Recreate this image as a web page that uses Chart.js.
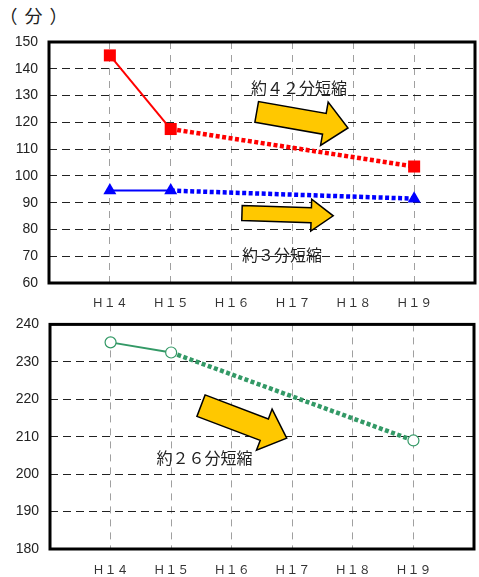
<!DOCTYPE html>
<html><head><meta charset="utf-8">
<script src="https://cdn.jsdelivr.net/npm/chart.js@4"></script>
<style>
html,body{margin:0;padding:0;background:#fff;}
#wrap{position:relative;width:479px;height:577px;overflow:hidden;background:#fff;}
canvas{position:absolute;left:0;}
#unit{position:absolute;left:-0.5px;top:6px;font-size:18px;line-height:18px;font-family:"Noto Sans CJK JP";letter-spacing:7px;color:#222;white-space:nowrap;}
</style></head><body>
<div id="wrap">
<div id="unit">（分）</div>
<canvas id="c1" width="479" height="310" style="top:0"></canvas>
<canvas id="c2" width="479" height="272" style="top:305px"></canvas>
</div>
<script>
// ---- data ----
const categories = ['Ｈ１４','Ｈ１５','Ｈ１６','Ｈ１７','Ｈ１８','Ｈ１９'];
const redValues   = [145, 117.5, null, null, null, 103.5];
const blueValues  = [94.5, 94.5, null, null, null, 91.5];
const greenValues = [235.2, 232.5, null, null, null, 209];
const topYTicks = [60, 70, 80, 90, 100, 110, 120, 130, 140, 150];
const bottomYTicks = [180, 190, 200, 210, 220, 230, 240];
const unitLabel = '（分）';
const noteRed = '約４２分短縮';
const noteBlue = '約３分短縮';
const noteGreen = '約２６分短縮';

// ---- helpers ----
const labels = ['', ...categories, ''];
const pad = arr => [null, ...arr, null];
const GREEN = '#339966';
const YELLOW = '#FFC800';

function drawArrow(ctx, x0, y0, x1, y1, bodyW, headW, headL) {
  const dx = x1 - x0, dy = y1 - y0, L = Math.hypot(dx, dy);
  const ux = dx / L, uy = dy / L, nx = -uy, ny = ux;
  const bx = x1 - ux * headL, by = y1 - uy * headL;
  const pts = [
    [x0 + nx * bodyW / 2, y0 + ny * bodyW / 2],
    [bx + nx * bodyW / 2, by + ny * bodyW / 2],
    [bx + nx * headW / 2, by + ny * headW / 2],
    [x1, y1],
    [bx - nx * headW / 2, by - ny * headW / 2],
    [bx - nx * bodyW / 2, by - ny * bodyW / 2],
    [x0 - nx * bodyW / 2, y0 - ny * bodyW / 2]
  ];
  ctx.beginPath();
  pts.forEach((p, i) => i ? ctx.lineTo(p[0], p[1]) : ctx.moveTo(p[0], p[1]));
  ctx.closePath();
  ctx.fillStyle = YELLOW;
  ctx.fill();
  ctx.lineWidth = 1.5;
  ctx.lineJoin = 'miter';
  ctx.strokeStyle = '#000';
  ctx.stroke();
}

const framePlugin = {
  id: 'frame',
  beforeDatasetsDraw(chart) {
    const { ctx, chartArea: a } = chart;
    ctx.save();
    ctx.lineWidth = 3;
    ctx.strokeStyle = '#000';
    ctx.strokeRect(a.left, a.top, a.right - a.left, a.bottom - a.top);
    ctx.restore();
  }
};

const notesPlugin = {
  id: 'notes',
  afterDatasetsDraw(chart, args, opts) {
    const { ctx, scales: { x, y } } = chart;
    ctx.save();
    (opts.arrows || []).forEach(a => {
      drawArrow(ctx,
        x.getPixelForValue(a.from[0]), y.getPixelForValue(a.from[1]),
        x.getPixelForValue(a.to[0]), y.getPixelForValue(a.to[1]),
        a.bodyW, a.headW, a.headL);
    });
    (opts.texts || []).forEach(t => {
      ctx.font = '16px "Noto Sans CJK JP"';
      ctx.fillStyle = '#222';
      ctx.textAlign = 'center';
      ctx.textBaseline = 'middle';
      ctx.fillText(t.text, x.getPixelForValue(t.at[0]), y.getPixelForValue(t.at[1]));
    });
    ctx.restore();
  }
};

function lineDataset(values, color, pointStyle, radius, extra) {
  return Object.assign({
    data: pad(values),
    borderColor: color,
    backgroundColor: color,
    pointBackgroundColor: color,
    pointBorderColor: color,
    pointBorderWidth: 0,
    pointStyle: pointStyle,
    pointRadius: radius,
    pointHoverRadius: radius,
    spanGaps: true,
    tension: 0,
    borderWidth: 2,
    clip: false,
    segment: {
      borderDash: c => c.p0DataIndex >= 2 ? [4, 2.5] : [],
      borderWidth: c => c.p0DataIndex >= 2 ? 4.5 : 2
    }
  }, extra || {});
}

function makeOptions(ticks, cfg) {
  return {
    responsive: false,
    animation: false,
    events: [],
    layout: { padding: cfg.padding, autoPadding: false },
    plugins: {
      legend: { display: false },
      tooltip: { enabled: false },
      notes: cfg.notes
    },
    scales: {
      x: {
        type: 'category',
        offset: false,
        afterFit: s => { s.height = cfg.xHeight; s.paddingLeft = 0; s.paddingRight = 0; },
        grid: { color: '#a0a0a0', lineWidth: 1, drawTicks: false },
        border: { display: false, dash: [7, 6] },
        ticks: {
          autoSkip: false, maxRotation: 0, padding: cfg.xPad, color: '#333',
          font: { family: '"Noto Sans CJK JP"', size: 12 }
        }
      },
      y: {
        min: ticks[0],
        max: ticks[ticks.length - 1],
        afterFit: s => { s.width = cfg.yWidth; },
        afterBuildTicks: s => { s.ticks = ticks.map(v => ({ value: v })); },
        grid: { color: '#222', lineWidth: 1, drawTicks: false },
        border: { display: false, dash: [8, 5] },
        ticks: {
          padding: 11, color: '#222',
          font: { family: '"Liberation Sans", Arial, sans-serif', size: 14 }
        }
      }
    }
  };
}

new Chart(document.getElementById('c1'), {
  type: 'line',
  data: {
    labels: labels,
    datasets: [
      lineDataset(redValues, '#FF0000', 'rect', 8.5),
      lineDataset(blueValues, '#0000FF', 'triangle', 7.5)
    ]
  },
  options: makeOptions(topYTicks, {
    padding: { left: 0, right: 4, top: 42, bottom: 0 },
    xHeight: 27, yWidth: 49, xPad: 12,
    notes: {
      arrows: [
        { from: [3.413, 123.9], to: [4.913, 117.9], bodyW: 21, headW: 44, headL: 24 },
        { from: [3.171, 86.1], to: [4.670, 85.1], bodyW: 15, headW: 32, headL: 22 }
      ],
      texts: [
        { text: noteRed, at: [4.108, 132.8] },
        { text: noteBlue, at: [3.829, 70.5] }
      ]
    }
  }),
  plugins: [framePlugin, notesPlugin]
});

new Chart(document.getElementById('c2'), {
  type: 'line',
  data: {
    labels: labels,
    datasets: [
      lineDataset(greenValues, GREEN, 'circle', 5.5, {
        pointBackgroundColor: '#fff', pointBorderColor: GREEN, pointBorderWidth: 1.2
      })
    ]
  },
  options: makeOptions(bottomYTicks, {
    padding: { left: 1, right: 5, top: 16, bottom: 0 },
    xHeight: 28, yWidth: 49, xPad: 13,
    notes: {
      arrows: [
        { from: [2.493, 218.3], to: [3.908, 209.6], bodyW: 23, headW: 44, headL: 24 }
      ],
      texts: [
        { text: noteGreen, at: [2.551, 204.4] }
      ]
    }
  }),
  plugins: [framePlugin, notesPlugin]
});
document.getElementById('unit').textContent = unitLabel;
</script>
</body></html>
